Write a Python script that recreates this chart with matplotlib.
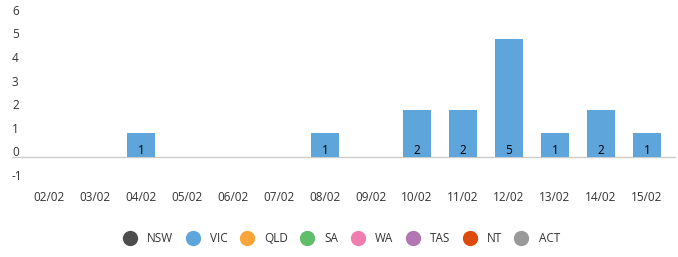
import matplotlib
matplotlib.use("Agg")
import matplotlib.pyplot as plt
import matplotlib.transforms as mtransforms
from matplotlib.lines import Line2D
import numpy as np

plt.rcParams["font.family"] = ["Open Sans", "DejaVu Sans"]

# ---------------------------------------------------------------------------
# Data
# ---------------------------------------------------------------------------
dates = ["02/02", "03/02", "04/02", "05/02", "06/02", "07/02", "08/02",
         "09/02", "10/02", "11/02", "12/02", "13/02", "14/02", "15/02"]
states = ["NSW", "VIC", "QLD", "SA", "WA", "TAS", "NT", "ACT"]
state_colors = ["#4d4d4d", "#5da5da", "#faa43a", "#60bd68",
                "#f17cb0", "#b276b2", "#de4a0a", "#999999"]

nsw = [0] * 14
vic = [0, 0, 1, 0, 0, 0, 1, 0, 2, 2, 5, 1, 2, 1]
qld = [0] * 14
sa = [0] * 14
wa = [0] * 14
tas = [0] * 14
nt = [0] * 14
act = [0] * 14
series = [nsw, vic, qld, sa, wa, tas, nt, act]

y_ticks = [-1, 0, 1, 2, 3, 4, 5, 6]

# ---------------------------------------------------------------------------
# Figure
# ---------------------------------------------------------------------------
W, H = 678, 257
fig = plt.figure(figsize=(W / 100, H / 100), dpi=100)
ax = fig.add_axes([12 / W, 1 - 187.7 / H, 664 / W, 179.4 / H])

x = np.arange(len(dates))
bottom = np.zeros(len(dates))
for name, vals, color in zip(states, series, state_colors):
    vals = np.array(vals, dtype=float)
    ax.bar(x, vals, width=0.61, bottom=bottom, color=color, linewidth=0)
    for xi, b, v in zip(x, bottom, vals):
        if v > 0:
            ax.annotate(str(int(v)), (xi, b), xytext=(0, 5), textcoords="offset points",
                        ha="center", va="center", fontsize=8.5, color="#000000")
    bottom += vals

ax.axhline(0, color="#cccccc", linewidth=1, zorder=0)

ax.set_xlim(-0.80, 13.63)
ax.set_ylim(-1.3, 6.3)
ax.set_xticks(x)
ax.set_xticklabels(dates)
ax.set_yticks(y_ticks)
ax.set_yticklabels([str(t) for t in y_ticks])
for s in ax.spines.values():
    s.set_visible(False)
ax.tick_params(axis="x", length=0, pad=2.7, labelsize=8.5, labelcolor="#333333")
ax.tick_params(axis="y", length=0, pad=0, labelsize=8.5, labelcolor="#333333")

# y labels sit inside the plot, left aligned, a little above their value
shift = mtransforms.ScaledTranslation(0, 4 / 72, fig.dpi_scale_trans)
for lbl in ax.get_yticklabels():
    lbl.set_horizontalalignment("left")
    lbl.set_transform(lbl.get_transform() + shift)

handles = [Line2D([], [], linestyle="none", marker="o", markersize=11,
                  markerfacecolor=c, markeredgewidth=0) for c in state_colors]
fig.legend(handles, states, loc="center", bbox_to_anchor=(341 / W, 1 - 239 / H),
           ncol=len(states), frameon=False, fontsize=8.5, labelcolor="#333333",
           handlelength=1.3, handletextpad=0.8, columnspacing=1.0)

fig.savefig("out.png", dpi=100)
